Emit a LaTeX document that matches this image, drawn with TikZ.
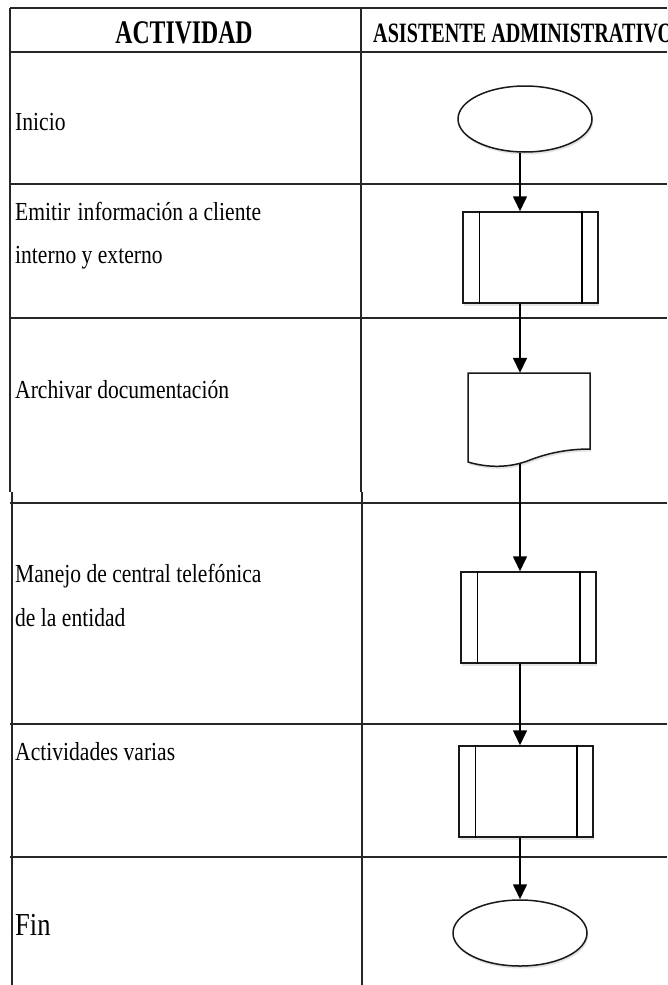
\documentclass[tikz,border=0pt]{standalone}
\usepackage{fontspec}
\setmainfont{Liberation Serif}
\newfontfamily\bodyfont[FakeStretch=0.83]{Liberation Serif}
\newfontfamily\headfont[FakeStretch=0.72]{Liberation Serif}
\usetikzlibrary{shapes.geometric, arrows.meta, shadows}

\begin{document}
\begin{tikzpicture}[x=1pt, y=-1pt,
  grid/.style={line width=1.6pt, draw=black!85},
  shp/.style={draw=black!90, line width=1.5pt, fill=white,
    drop shadow={opacity=0.22, shadow xshift=1.2pt, shadow yshift=-2.5pt}},
  terminal/.style={shp, ellipse, minimum width=134pt, minimum height=66pt, inner sep=0pt},
  process/.style={shp, rectangle, minimum width=135pt, minimum height=91pt, inner sep=0pt},
  flow/.style={line width=1.6pt, -{Triangle[length=15pt, width=14pt]}},
  bodytxt/.style={anchor=base west, inner sep=0pt, font=\bodyfont\fontsize{26}{26}\selectfont},
  headtxt/.style={inner sep=0pt, font=\headfont\bfseries\fontsize{#1}{#1}\selectfont},
]
\clip (0,0) rectangle (667,985);
\fill[white] (0,0) rectangle (667,985);

% table grid
\draw[grid] (10,8) -- (667,8);
\draw[grid] (10,52) -- (667,52);
\draw[grid] (10,184) -- (667,184);
\draw[grid] (10,318) -- (667,318);
\draw[grid] (10,503) -- (667,503);
\draw[grid] (10,724) -- (667,724);
\draw[grid] (10,857) -- (667,857);
\draw[grid] (10,8) -- (10,492);
\draw[grid] (12,492) -- (12,985);
\draw[grid] (361,8) -- (361,492);
\draw[grid] (362,492) -- (362,985);

% header
\node[headtxt=33] (hact) at (184,33) {ACTIVIDAD};
\node[headtxt=28, anchor=west] (hasis) at (373,33) {ASISTENTE ADMINISTRATIVO};

% activity descriptions
\node[bodytxt] (a1) at (15,130) {Inicio};
\node[bodytxt] (a2) at (15,220) {Emitir \kern2pt información a cliente};
\node[bodytxt] (a2b) at (15,263) {interno y externo};
\node[bodytxt] (a3) at (15,398) {Archivar documentación};
\node[bodytxt] (a4) at (15,582) {Manejo de central telefónica};
\node[bodytxt] (a4b) at (15,626) {de la entidad};
\node[bodytxt] (a5) at (15,760) {Actividades varias};
\node[bodytxt, font=\bodyfont\fontsize{32}{32}\selectfont] (a6) at (15,935) {Fin};

% flowchart symbols
\coordinate (ax) at (520,0);
\node[terminal] (ini) at (525,119) {};
\node[process] (p1) at (530.5,257.5) {};
\draw[line width=1.5pt] ([xshift=17pt]p1.north west) -- ([xshift=17pt]p1.south west);
\draw[line width=1.5pt] ([xshift=-17pt]p1.north east) -- ([xshift=-17pt]p1.south east);

\node[inner sep=0pt, minimum width=122pt, minimum height=90pt] (doc) at (529,418) {};
\path[shp] (468,373) -- (590,373) -- (590,449)
  .. controls (568,449) and (548,453) .. (530,460)
  .. controls (510,468) and (488,468) .. (468,462) -- cycle;
\coordinate (docout) at (520,464);

\node[process] (p2) at (528.5,617.5) {};
\draw[line width=1.5pt] ([xshift=17pt]p2.north west) -- ([xshift=17pt]p2.south west);
\draw[line width=1.5pt] ([xshift=-17pt]p2.north east) -- ([xshift=-17pt]p2.south east);

\node[process, minimum width=134pt] (p3) at (526,791.5) {};
\draw[line width=1.5pt] ([xshift=17pt]p3.north west) -- ([xshift=17pt]p3.south west);
\draw[line width=1.5pt] ([xshift=-17pt]p3.north east) -- ([xshift=-17pt]p3.south east);

\node[terminal] (fin) at (520,933) {};

% connectors
\draw[flow] (ax |- ini.south) -- (ax |- p1.north);
\draw[flow] (ax |- p1.south) -- (ax |- doc.north);
\draw[flow] (docout) -- (ax |- p2.north);
\draw[flow] (ax |- p2.south) -- (ax |- p3.north);
\draw[flow] (ax |- p3.south) -- (fin.north);
\end{tikzpicture}
\end{document}
